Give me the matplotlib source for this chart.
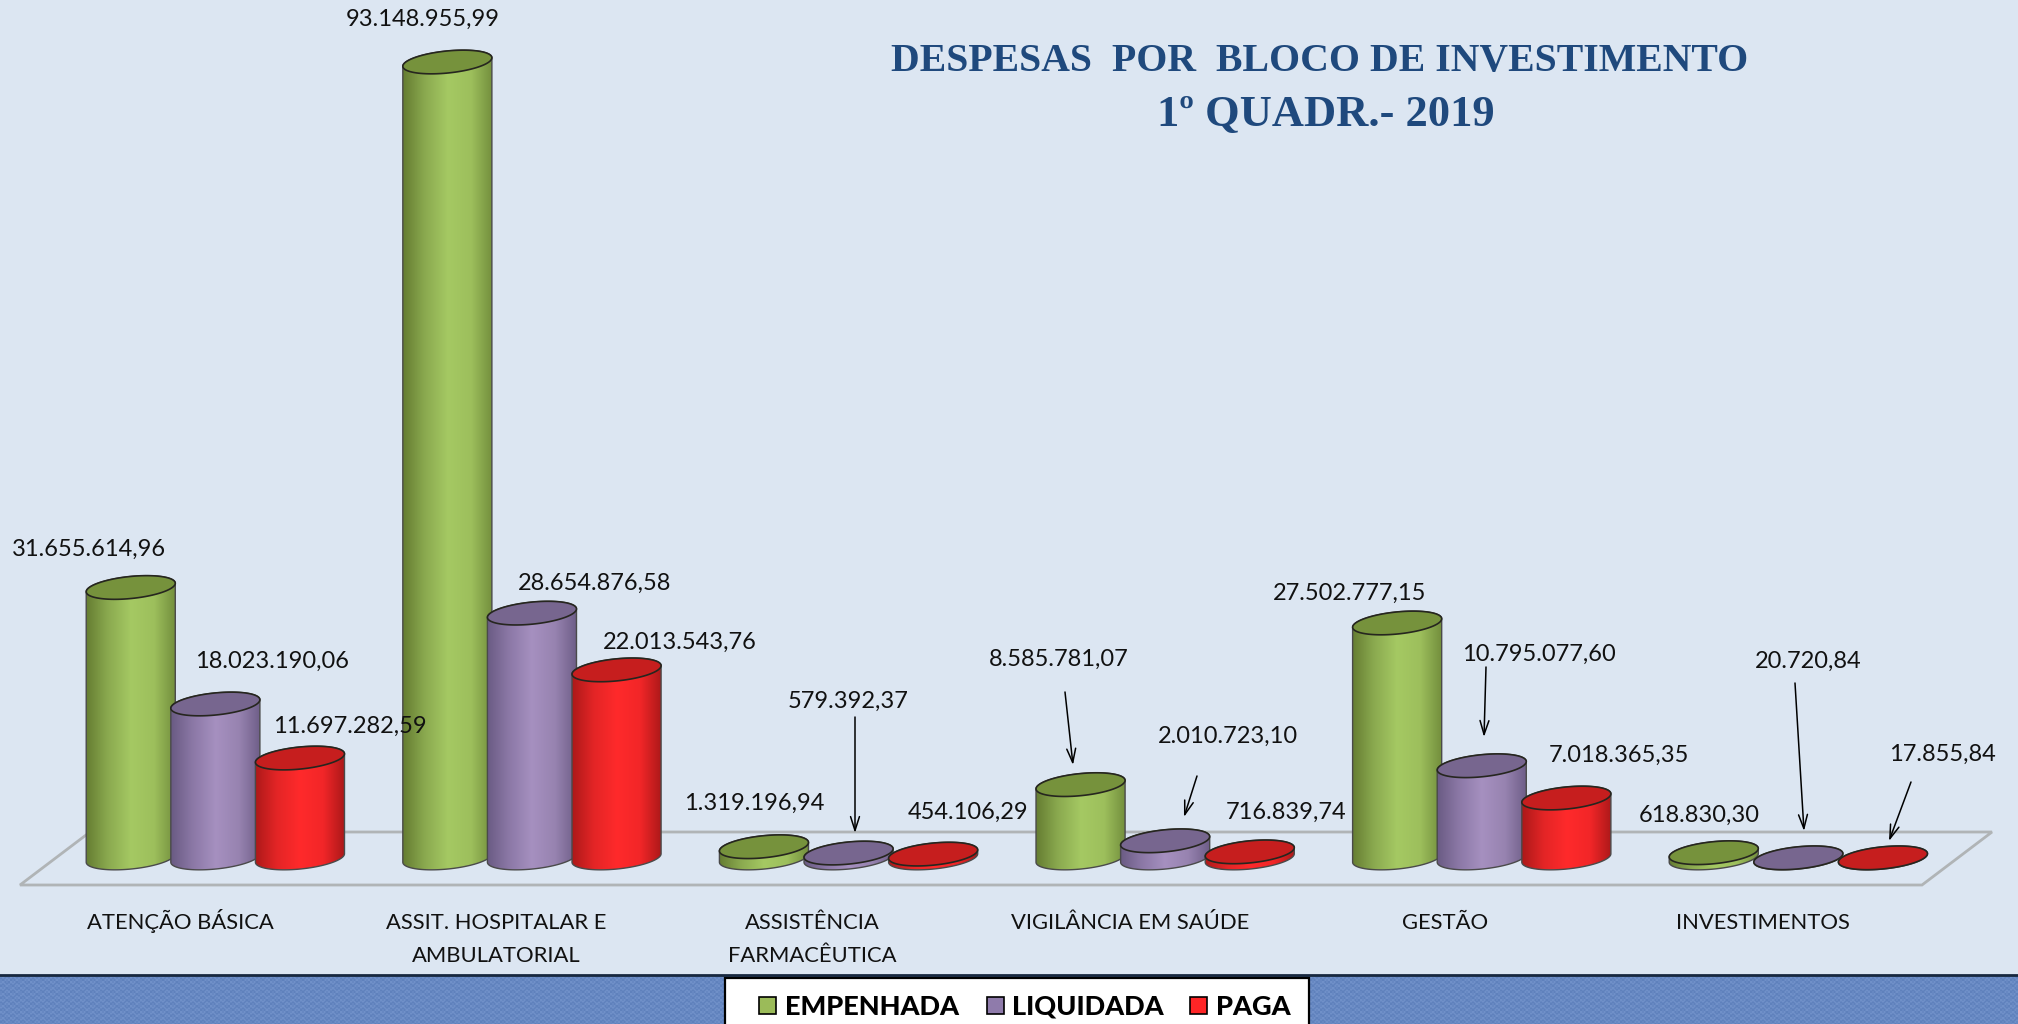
import numpy as np
import matplotlib
matplotlib.use('Agg')
import matplotlib.pyplot as plt
from matplotlib.colors import LinearSegmentedColormap
from matplotlib.patches import PathPatch, Polygon, Rectangle
from matplotlib.path import Path
from matplotlib.transforms import Affine2D, ScaledTranslation

categories = ['ATENÇÃO BÁSICA', 'ASSIT. HOSPITALAR E\nAMBULATORIAL', 'ASSISTÊNCIA\nFARMACÊUTICA',
              'VIGILÂNCIA EM SAÚDE', 'GESTÃO', 'INVESTIMENTOS']
series_names = ['EMPENHADA', 'LIQUIDADA', 'PAGA']
empenhada = [31655614.96, 93148955.99, 1319196.94, 8585781.07, 27502777.15, 618830.30]
liquidada = [18023190.06, 28654876.58, 579392.37, 2010723.10, 10795077.60, 20720.84]
paga = [11697282.59, 22013543.76, 454106.29, 716839.74, 7018365.35, 17855.84]

W, H = 2018, 1024
DPI = 100
BG = '#dce6f2'
BASE_Y = 858  # pixel row of value 0
PX_PER_UNIT = 796 / 93148955.99

# label centres in image pixels, same order as the series
label_pos = [
    [(89, 549), (423, 19), (754, 803), (1059, 659), (1350, 593), (1699, 815)],
    [(272, 661), (595, 583), (848, 701), (1228, 736), (1539, 654), (1808, 661)],
    [(350, 726), (680, 642), (968, 812), (1286, 812), (1619, 755), (1942, 754)],
]
arrows = [((855, 717), (855, 833)), ((1065, 692), (1073, 765)), ((1197, 776), (1184, 817)),
          ((1486, 667), (1484, 737)), ((1795, 683), (1804, 831)), ((1911, 782), (1889, 841))]
cat_x = [180, 496, 812, 1130, 1445, 1763]

plt.rcParams['font.family'] = ['Lato', 'DejaVu Sans']

fig = plt.figure(figsize=(W / DPI, H / DPI), dpi=DPI, facecolor=BG)
ax = fig.add_axes([0, 0, 1, 1])
ax.set_facecolor(BG)
ax.set_xlim(0, W)
ax.set_ylim(-(H - BASE_Y) / PX_PER_UNIT, BASE_Y / PX_PER_UNIT)
ax.autoscale(False)
ax.axis('off')

# image pixels (y down) -> display
px = Affine2D().scale(1, -1).translate(0, H)

# Floor
floor = Polygon([(20, 885), (90, 832), (1992, 832), (1922, 885)], closed=True, facecolor=BG,
                edgecolor='#b0b4b6', linewidth=2.0, transform=px, zorder=1)
ax.add_patch(floor)

# Cylinders
group_x0 = 86
group_step = 316.6
bar_step = 84.6
bar_w = 89.5
groups = np.arange(len(categories))
a, b, theta = bar_w / 2, 11.0, np.radians(5.8)

series_vals = [empenhada, liquidada, paga]
body_cmaps = [
    ['#62792f', '#8aa94f', '#a5c963', '#9dbf5c', '#6f8a3a'],
    ['#675880', '#8b78a6', '#a690c0', '#9783b0', '#6a5a84'],
    ['#a81818', '#e32526', '#ff2a2b', '#f22628', '#a51718'],
]
top_colors = ['#76923c', '#77668f', '#c61e1e']
series_colors = ['#9bbb59', '#8f7bab', '#fe2526']


def ell(t):
    x = a * np.cos(t) * np.cos(theta) - b * np.sin(t) * np.sin(theta)
    y = a * np.cos(t) * np.sin(theta) + b * np.sin(t) * np.cos(theta)
    return np.column_stack([x, y])


t_r = np.arctan(-(b / a) * np.tan(theta))
low = ell(np.linspace(t_r + np.pi, t_r + 2 * np.pi, 60))
up = ell(np.linspace(t_r, t_r + np.pi, 60))
whole = ell(np.linspace(0, 2 * np.pi, 121))

z = 2
for g in groups:
    for s, vals in enumerate(series_vals):
        left = group_x0 + group_step * g + bar_step * s
        rect = ax.bar(left, vals[g], width=bar_w, align='edge', color='none', linewidth=0, zorder=z)[0]
        cx = rect.get_x() + rect.get_width() / 2
        v = rect.get_height()
        h = ax.transData.transform((0, v))[1] - ax.transData.transform((0, 0))[1]
        tr = ScaledTranslation(cx, 0, ax.transData)

        verts = np.vstack([low, up + [0, h]])
        body = PathPatch(Path(np.vstack([verts, verts[0]]), closed=True), facecolor='none', edgecolor='#4a4a4a',
                         linewidth=1.0, transform=tr, zorder=z + 0.2)
        ax.add_patch(body)

        cmap = LinearSegmentedColormap.from_list('c%d' % s, body_cmaps[s])
        grad = np.linspace(0, 1, 128).reshape(1, -1)
        im = ax.imshow(grad, cmap=cmap, aspect='auto', interpolation='bilinear',
                       extent=(cx - a - 2, cx + a + 2, -40 / PX_PER_UNIT, v + 40 / PX_PER_UNIT), zorder=z + 0.1)
        im.set_clip_path(body)

        top = Polygon(whole + [0, h], closed=True, facecolor=top_colors[s], edgecolor='#26261f', linewidth=1.2,
                      transform=ScaledTranslation(cx, 0, ax.transData), zorder=z + 0.3)
        ax.add_patch(top)
        z += 1

# Value labels
for s, vals in enumerate(series_vals):
    for g, val in enumerate(vals):
        txt = f'{val:,.2f}'.replace(',', 'X').replace('.', ',').replace('X', '.')
        ax.text(label_pos[s][g][0], label_pos[s][g][1], txt, transform=px, fontsize=17, color='#111111',
                ha='center', va='center', zorder=60)

for start, end in arrows:
    ax.annotate('', xy=end, xytext=start, xycoords=px, textcoords=px, zorder=61,
                arrowprops=dict(arrowstyle='->,head_length=1.0,head_width=0.32', color='black', lw=1.1,
                                shrinkA=0, shrinkB=0))

# Category labels, one baseline per line
for x, name in zip(cat_x, categories):
    for i, line in enumerate(name.split('\n')):
        ax.text(x, 929 + 33 * i, line, transform=px, fontsize=15.8, color='#111111', ha='center', va='baseline',
                zorder=60)

# Title
ax.text(1320, 62, 'DESPESAS  POR  BLOCO DE INVESTIMENTO', transform=px, fontsize=28.6, fontweight='bold',
        family=['Liberation Serif', 'DejaVu Serif'], color='#1f497d', ha='center', va='center', zorder=60)
ax.text(1326, 115, '1º QUADR.- 2019', transform=px, fontsize=32, fontweight='bold',
        family=['Liberation Serif', 'DejaVu Serif'], color='#1f497d', ha='center', va='center', zorder=60)

# Blue band with a woven look
yy, xx = np.indices((49, W))
weave = 0.5 + 0.25 * np.where((xx // 2 + yy // 2) % 2 == 0, 1, -1) + 0.25 * np.where((xx // 5 + yy // 3) % 2 == 0, 1, -1)
band_cmap = LinearSegmentedColormap.from_list('band', ['#5f81bc', '#7090c8'])
ax.imshow(weave, cmap=band_cmap, aspect='auto', interpolation='nearest', extent=(0, W, 1024, 975), transform=px,
          zorder=70)
ax.plot([0, W], [975, 975], color='#17283f', linewidth=2, transform=px, zorder=71)

# Legend
ax.add_patch(Rectangle((725, 978), 584, 60, facecolor='white', edgecolor='black', linewidth=1.6, transform=px,
                       zorder=72))
swatch_x = [759, 987, 1190]
legend_x = [785, 1012, 1216]
for name, col, sx, tx in zip(series_names, series_colors, swatch_x, legend_x):
    ax.add_patch(Rectangle((sx, 997), 17, 17, facecolor=col, edgecolor='black', linewidth=1.2, transform=px,
                           zorder=73))
    ax.text(tx, 1007, name, transform=px, fontsize=19.5, fontweight='black', color='black', ha='left', va='center',
            zorder=73)

fig.savefig('out.png', dpi=DPI, facecolor=BG)
